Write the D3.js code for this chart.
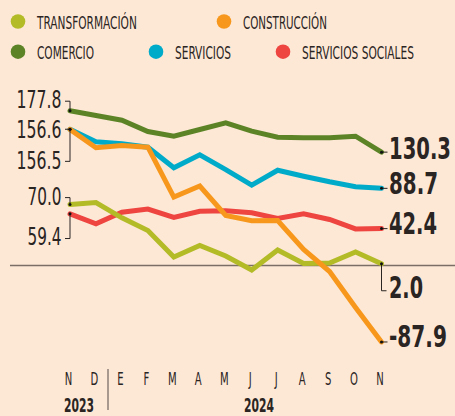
<!DOCTYPE html>
<html>
<head>
<meta charset="utf-8">
<script src="https://cdn.jsdelivr.net/npm/d3@7"></script>
<style>
  html, body { margin: 0; padding: 0; background: #fde8d6; }
  svg { display: block; }
  text { font-family: "Liberation Sans Narrow", "DejaVu Sans Condensed", "Liberation Sans", sans-serif; fill: #2a2422; }
</style>
</head>
<body>
<div id="chart"></div>
<script>
const W = 455, H = 416;

// months, nov 2023 - nov 2024
const months = ["N", "D", "E", "F", "M", "A", "M", "J", "J", "A", "S", "O", "N"];
const years = ["2023", "2024"];

const names = ["TRANSFORMACIÓN", "CONSTRUCCIÓN", "COMERCIO", "SERVICIOS", "SERVICIOS SOCIALES"];
const colors = ["#b3bb27", "#f7981d", "#5c8426", "#00abc9", "#ee4540"];

const transformacion = [70.0, 72.3, 54.8, 40.2, 9.8, 23.0, 10.9, -5.2, 17.8, 2.3, 2.9, 15.5, 2.0];
const construccion = [156.5, 135.3, 137.9, 136.0, 78.7, 91.4, 57.5, 51.4, 51.7, 18.4, -6.9, -48.3, -87.9];
const comercio = [177.8, 172.4, 167.0, 154.0, 148.6, 156.3, 164.0, 154.4, 147.5, 146.8, 146.8, 148.6, 130.3];
const servicios = [156.6, 142.2, 139.9, 136.0, 112.3, 127.2, 110.3, 92.3, 109.5, 102.6, 96.2, 90.5, 88.7];
const sociales = [59.4, 47.9, 61.3, 64.9, 55.2, 62.4, 62.9, 60.6, 54.0, 59.4, 52.9, 42.0, 42.4];

const allSeries = [transformacion, construccion, comercio, servicios, sociales];
const drawOrder = [2, 3, 4, 0, 1];

var x = d3.scalePoint()
    .domain(d3.range(months.length))
    .range([70, 381.5]);

var y = d3.scaleLinear()
    .domain([0, 100])
    .range([265.5, 178.5]);

const svg = d3.select("#chart").append("svg")
    .attr("width", W)
    .attr("height", H);

svg.append("rect").attr("width", W).attr("height", H).attr("fill", "#fde8d6");

// squeeze text horizontally to a given width (font is condensed in the original)
const fit = (sel, w) => {
  const len = sel.node().getComputedTextLength();
  const tx = +sel.attr("x"), ty = +sel.attr("y");
  sel.attr("x", 0).attr("y", 0)
     .attr("transform", `translate(${tx},${ty}) scale(${w / len},1)`);
};

// legend
const legendPos = [[18, 21.5, 100], [224, 21.5, 84], [18, 51.7, 57], [156, 51.7, 56], [283, 51.7, 112]];
const legend = svg.append("g").attr("class", "legend");
names.forEach((n, i) => {
  const [cx, cy, tw] = legendPos[i];
  legend.append("circle").attr("cx", cx).attr("cy", cy).attr("r", 7.3).attr("fill", colors[i]);
  legend.append("text")
      .attr("x", cx + 19).attr("y", cy + 7.5)
      .attr("font-size", 18)
      .text(n)
      .call(fit, tw);
});

// zero line
svg.append("line")
    .attr("x1", 10).attr("x2", W)
    .attr("y1", y(0)).attr("y2", y(0))
    .attr("stroke", "#7b6e66").attr("stroke-width", 1.6);

// lines
const line = d3.line()
    .x((d, i) => x(i))
    .y(d => y(d));

svg.append("g").selectAll("path")
    .data(drawOrder)
    .enter().append("path")
    .attr("d", i => line(allSeries[i]))
    .attr("fill", "none")
    .attr("stroke", i => colors[i])
    .attr("stroke-width", 5)
    .attr("stroke-linecap", "round")
    .attr("stroke-linejoin", "miter");

// annotations: [series, label baseline offset, bracket offset, text width]
const leftNotes = [
  [2, -3, -9.6, 45],
  [3, 8.6, 0, 45],
  [1, 39.5, 32, 45],
  [0, 0.6, -7, 34],
  [4, 30.7, 24.7, 34]
];
const rightNotes = [
  [2, 6.5, 0, 62],
  [3, 6, 0, 49],
  [4, 5.5, 0, 48],
  [0, 34, 27, 34],
  [1, 5, 0, 58]
];

const notes = svg.append("g").attr("class", "notes");
const last = months.length - 1;

leftNotes.forEach(([s, dy, by, tw]) => {
  const v = allSeries[s][0], px = x(0), py = y(v);
  notes.append("path")
      .attr("d", `M${px},${py}V${py + by}H${px - 5}`)
      .attr("fill", "none").attr("stroke", "#2a2422").attr("stroke-width", 1);
  notes.append("circle").attr("cx", px).attr("cy", py).attr("r", 1.5).attr("fill", "#111");
  notes.append("text")
      .attr("x", px - 8.5).attr("y", py + dy)
      .attr("text-anchor", "end")
      .attr("font-size", 24)
      .text(v.toFixed(1))
      .call(fit, tw);
});

rightNotes.forEach(([s, dy, by, tw]) => {
  const v = allSeries[s][last], px = x(last), py = y(v);
  if (by) {
    notes.append("path")
        .attr("d", `M${px},${py}V${py + by}H${px + 5}`)
        .attr("fill", "none").attr("stroke", "#2a2422").attr("stroke-width", 1);
  } else {
    notes.append("line")
        .attr("x1", px).attr("x2", px + 6).attr("y1", py).attr("y2", py)
        .attr("stroke", "#2a2422").attr("stroke-width", 1);
  }
  notes.append("circle").attr("cx", px).attr("cy", py).attr("r", 1.5).attr("fill", "#111");
  notes.append("text")
      .attr("x", px + 7.5).attr("y", py + dy)
      .attr("font-size", 30)
      .attr("font-weight", "bold")
      .attr("fill", "#1c1715")
      .text(v.toFixed(1))
      .call(fit, tw);
});

// x axis labels
const axis = svg.append("g").attr("class", "x_axis");
axis.selectAll(".month")
    .data(months)
    .enter().append("text")
    .attr("class", "month")
    .attr("transform", (d, i) => `translate(${x(i) - 1.5},385) scale(0.62,1)`)
    .attr("text-anchor", "middle")
    .attr("font-size", 18)
    .text(d => d);

axis.append("line")
    .attr("x1", 108).attr("x2", 108)
    .attr("y1", 369).attr("y2", 410)
    .attr("stroke", "#7b6e66").attr("stroke-width", 1.3);

const yearX = [79, 259];
years.forEach((yr, i) => {
  axis.append("text")
      .attr("x", yearX[i]).attr("y", 411.5)
      .attr("text-anchor", "middle")
      .attr("font-size", 20)
      .attr("font-weight", "bold")
      .text(yr)
      .call(fit, 30);
});
</script>
</body>
</html>
